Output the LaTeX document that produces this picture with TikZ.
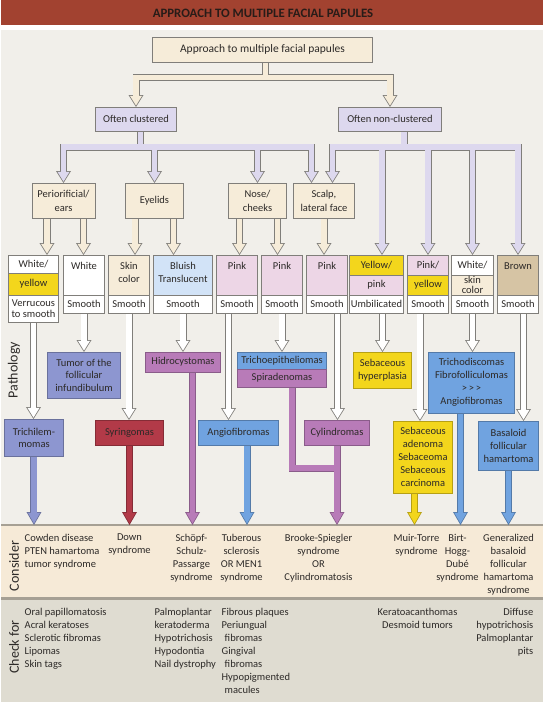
\documentclass[tikz,border=0pt]{standalone}
\usepackage{fontspec}
\setmainfont{Carlito}
\usetikzlibrary{arrows.meta}

\definecolor{titlered}{RGB}{162,66,48}
\definecolor{titletext}{RGB}{40,28,24}
\definecolor{bgpaper}{RGB}{241,239,234}
\definecolor{cream}{RGB}{246,236,217}
\definecolor{lav}{RGB}{221,216,238}
\definecolor{boxgray}{RGB}{128,126,122}
\definecolor{pinkc}{RGB}{237,214,230}
\definecolor{bluec}{RGB}{210,227,247}
\definecolor{yelc}{RGB}{243,214,28}
\definecolor{brownc}{RGB}{214,196,164}
\definecolor{slate}{RGB}{141,150,208}
\definecolor{mauve}{RGB}{184,123,184}
\definecolor{azure}{RGB}{112,163,224}
\definecolor{crimson}{RGB}{178,58,72}
\definecolor{considerbg}{RGB}{246,234,215}
\definecolor{checkbg}{RGB}{223,220,209}
\definecolor{bandline}{RGB}{166,160,148}
\definecolor{txt}{RGB}{45,42,40}

\pgfdeclarelayer{back}
\pgfdeclarelayer{links}
\pgfsetlayers{back,links,main}

\newcommand{\boxfont}{\fontsize{10.5}{13}\selectfont}

\tikzset{every picture/.style={line width=0.75pt}}
\tikzset{
  box/.style={draw=boxgray, line width=0.8pt, inner sep=0pt, outer sep=0pt, align=center, text=txt, font=\boxfont},
  areabox/.style={box, fill=cream, font=\fontsize{10.5}{14}\selectfont},
  pbox/.style={box, draw=#1!75!black, fill=#1},
  lab/.style={inner sep=0pt, align=center, text=txt, font=\boxfont},
  bandtext/.style={inner sep=0pt, text=txt, font=\boxfont},
  sidelab/.style={rotate=90, inner sep=0pt, text=txt, font=\fontsize{14}{16}\selectfont},
  houtline/.style={draw=boxgray, line width=7pt},
  hinline/.style={draw=#1, line width=5.4pt},
  hout/.style={houtline, -{Triangle[length=12pt,width=15pt,line width=0pt]}},
  hin/.style={hinline=#1, shorten >=1.5pt, -{Triangle[length=9.7pt,width=12.1pt,line width=0pt]}},
  soutline/.style={draw=#1!75!black, line width=7pt},
  sinline/.style={draw=#1, line width=5.4pt},
  solidout/.style={soutline=#1, -{Triangle[length=13pt,width=15pt,line width=0pt]}},
  solidin/.style={sinline=#1, shorten >=1.6pt, -{Triangle[length=10.6pt,width=12.2pt,line width=0pt]}},
}

% every link of the chart, drawn once for the outline and once for the fill
\newcommand{\papulelinks}{%
  % top box to the two groups
  \draw[hbar=cream] ([xshift=3pt]approach.south) -- (b1);
  \draw[htip=cream] (b1) -| (clust.north);
  \draw[htip=cream] (b1) -| (nonclust.north);
  % often clustered to the sites
  \draw[hbar=lav] ([xshift=4.5pt]clust.south) -- (b2);
  \draw[htip=lav] (b2) -| (peri.north);
  \draw[htip=lav] (b2) -| (eye.north);
  \draw[htip=lav] (b2) -| (nose.north);
  \draw[htip=lav] (b2) -| ([xshift=-12.5pt]scalp.north);
  % often non-clustered
  \draw[hbar=lav] ([xshift=14pt]nonclust.south) -- (b3);
  \draw[htip=lav] (b3) -| ([xshift=8.5pt]scalp.north);
  \draw[htip=lav] (b3) -| ([xshift=5.5pt]c8top.north);
  \draw[htip=lav] (b3) -| (c9top.north);
  \draw[htip=lav] (b3) -| (c10top.north);
  \draw[htip=lav] (b3) -| (c11col.north);
  % sites to colours
  \draw[htip=cream] ([xshift=-16.5pt]peri.south) -- ([xshift=-16.5pt]peri.south |- c1top.north);
  \draw[htip=cream] ([xshift=20pt]peri.south) -- ([xshift=20pt]peri.south |- c2col.north);
  \draw[htip=cream] ([xshift=-19.5pt]eye.south) -- ([xshift=-19.5pt]eye.south |- c3col.north);
  \draw[htip=cream] ([xshift=19pt]eye.south) -- ([xshift=19pt]eye.south |- c4col.north);
  \draw[htip=cream] ([xshift=-18pt]nose.south) -- ([xshift=-18pt]nose.south |- c5col.north);
  \draw[htip=cream] ([xshift=20pt]nose.south) -- ([xshift=20pt]nose.south |- c6col.north);
  \draw[htip=cream] (scalp.south) -- (scalp.south |- c7col.north);
  % colours to pathology
  \draw[htip=white] (c1tex.south) -- (c1tex.south |- trichilem.north);
  \draw[htip=white] (c2tex.south) -- (c2tex.south |- tumor.north);
  \draw[htip=white] (c3tex.south) -- (c3tex.south |- syring.north);
  \draw[htip=white] (c4tex.south) -- (c4tex.south |- hidro.north);
  \draw[htip=white] ([xshift=-8.5pt]c5tex.south) -- ([xshift=-8.5pt]c5tex.south |- angio.north);
  \draw[htip=white] (c6tex.south) -- (c6tex.south |- tricho.north);
  \draw[htip=white] ([xshift=10.5pt]c7tex.south) -- ([xshift=10.5pt]c7tex.south |- cylin.north);
  \draw[htip=white] ([xshift=6pt]c8tex.south) -- ([xshift=6pt]c8tex.south |- sebhyp.north);
  \draw[htip=white] ([xshift=-8pt]c9tex.south) -- ([xshift=-8pt]c9tex.south |- sebad.north);
  \draw[htip=white] (c10tex.south) -- (c10tex.south |- trichod.north);
  \draw[htip=white] ([xshift=5.5pt]c11tex.south) -- ([xshift=5.5pt]c11tex.south |- basal.north);
  % pathology to syndromes
  \draw[stip=slate] (trichilem.south) -- (trichilem.south |- consider.north);
  \draw[stip=crimson] (syring.south) -- (syring.south |- consider.north);
  \draw[stip=mauve] ([xshift=9.5pt]hidro.south) -- ([xshift=9.5pt]hidro.south |- consider.north);
  \draw[stip=azure] ([xshift=8.5pt]angio.south) -- ([xshift=8.5pt]angio.south |- consider.north);
  \draw[sbar=mauve] ([xshift=10pt]spir.south) |- (sj);
  \draw[stip=mauve] (cylin.south) -- (cylin.south |- consider.north);
  \draw[stip=yelc] ([xshift=-8.5pt]sebad.south) -- ([xshift=-8.5pt]sebad.south |- consider.north);
  \draw[stip=azure] ([xshift=-11pt]trichod.south) -- ([xshift=-11pt]trichod.south |- consider.north);
  \draw[stip=azure] (basal.south) -- (basal.south |- consider.north);
}

\begin{document}
\begin{tikzpicture}[x=1pt,y=1pt,yscale=-1,xscale=1]

\begin{pgfonlayer}{back}
%Background, title bar and bands
\fill[bgpaper] (0,0) rectangle (541,702);
\fill[titlered] (0,0) rectangle (541,25);
\fill[white] (0,25) rectangle (541,30);
\node[fill=considerbg, minimum width=541pt, minimum height=73pt, inner sep=0pt, outer sep=0pt, anchor=north west] (consider) at (0,525) {};
\node[fill=checkbg, minimum width=541pt, minimum height=104pt, inner sep=0pt, outer sep=0pt, anchor=north west] (checkfor) at (0,598) {};
\draw[draw=bandline, line width=2pt] (consider.north west) -- (consider.north east);
\draw[draw=bandline, line width=3pt] (checkfor.north west) -- (checkfor.north east);
\end{pgfonlayer}

\node[inner sep=0pt, text=titletext, font=\bfseries\fontsize{12.8}{14}\selectfont] (title) at (261.5,13) {APPROACH TO MULTIPLE FACIAL PAPULES};

%Top levels
\node[box, fill=cream, minimum width=220pt, minimum height=25pt, font=\fontsize{11.5}{13}\selectfont] (approach) at (261,49.5) {Approach to multiple facial papules};
\node[box, fill=lav, minimum width=81pt, minimum height=24pt] (clust) at (134.5,119) {Often clustered};
\node[box, fill=lav, minimum width=103pt, minimum height=24pt] (nonclust) at (388.5,119) {Often non-clustered};

%Sites
\node[areabox, minimum width=63pt, minimum height=35pt] (peri) at (62,200.5) {Periorificial/\\ears};
\node[areabox, minimum width=58pt, minimum height=35pt] (eye) at (153,200.5) {Eyelids};
\node[areabox, minimum width=58pt, minimum height=35pt] (nose) at (256,200.5) {Nose/\\cheeks};
\node[areabox, minimum width=61pt, minimum height=35pt] (scalp) at (322.5,200.5) {Scalp,\\lateral face};

%Colours and surfaces
\node[box, fill=white, minimum width=50pt, minimum height=18pt] (c1top) at (32,264) {White/};
\node[box, fill=yelc, minimum width=50pt, minimum height=22pt] (c1bot) at (32,284) {yellow};
\node[box, fill=white, minimum width=50pt, minimum height=27pt, font=\fontsize{10.5}{11}\selectfont] (c1tex) at (32,308.5) {Verrucous\\to smooth};

\node[box, fill=white, minimum width=41pt, minimum height=40pt] (c2col) at (82.5,275) {};
\node[lab] (c2lab) at (82.5,266) {White};
\node[box, fill=white, minimum width=41pt, minimum height=18pt] (c2tex) at (82.5,304) {Smooth};

\node[box, fill=cream, minimum width=41pt, minimum height=40pt] (c3col) at (127.5,275) {};
\node[lab] (c3lab) at (127.5,272.5) {Skin\\color};
\node[box, fill=white, minimum width=41pt, minimum height=18pt] (c3tex) at (127.5,304) {Smooth};

\node[box, fill=bluec, minimum width=59pt, minimum height=40pt] (c4col) at (181.5,275) {};
\node[lab] (c4lab) at (181.5,272.5) {Bluish\\Translucent};
\node[box, fill=white, minimum width=59pt, minimum height=18pt] (c4tex) at (181.5,304) {Smooth};

\node[box, fill=pinkc, minimum width=41pt, minimum height=40pt] (c5col) at (235.5,275) {};
\node[lab] (c5lab) at (235.5,266) {Pink};
\node[box, fill=white, minimum width=41pt, minimum height=18pt] (c5tex) at (235.5,304) {Smooth};

\node[box, fill=pinkc, minimum width=41pt, minimum height=40pt] (c6col) at (280.5,275) {};
\node[lab] (c6lab) at (280.5,266) {Pink};
\node[box, fill=white, minimum width=41pt, minimum height=18pt] (c6tex) at (280.5,304) {Smooth};

\node[box, fill=pinkc, minimum width=41pt, minimum height=40pt] (c7col) at (325.5,275) {};
\node[lab] (c7lab) at (325.5,266) {Pink};
\node[box, fill=white, minimum width=41pt, minimum height=18pt] (c7tex) at (325.5,304) {Smooth};

\node[box, fill=yelc, minimum width=54pt, minimum height=20pt] (c8top) at (375,265) {Yellow/};
\node[box, fill=pinkc, minimum width=54pt, minimum height=20pt] (c8bot) at (375,285) {pink};
\node[box, fill=white, minimum width=54pt, minimum height=18pt] (c8tex) at (375,304) {Umbilicated};

\node[box, fill=pinkc, minimum width=41pt, minimum height=20pt] (c9top) at (426.5,265) {Pink/};
\node[box, fill=yelc, minimum width=41pt, minimum height=20pt] (c9bot) at (426.5,285) {yellow};
\node[box, fill=white, minimum width=41pt, minimum height=18pt] (c9tex) at (426.5,304) {Smooth};

\node[box, fill=white, minimum width=42pt, minimum height=20pt] (c10top) at (471,265) {White/};
\node[box, fill=cream, minimum width=42pt, minimum height=20pt, font=\fontsize{10.5}{10}\selectfont] (c10bot) at (471,285) {skin\\color};
\node[box, fill=white, minimum width=42pt, minimum height=18pt] (c10tex) at (471,304) {Smooth};

\node[box, fill=brownc, minimum width=41pt, minimum height=40pt] (c11col) at (516.5,275) {};
\node[lab] (c11lab) at (516.5,266) {Brown};
\node[box, fill=white, minimum width=41pt, minimum height=18pt] (c11tex) at (516.5,304) {Smooth};

%Pathology
\node[pbox=slate, minimum width=73pt, minimum height=46pt, font=\fontsize{10.5}{12.5}\selectfont] (tumor) at (82.5,375) {Tumor of the\\follicular\\infundibulum};
\node[pbox=mauve, minimum width=75pt, minimum height=20pt] (hidro) at (181.5,362) {Hidrocystomas};
\node[pbox=azure, minimum width=89pt, minimum height=17pt] (tricho) at (280.5,360.5) {Trichoepitheliomas};
\node[pbox=mauve, minimum width=89pt, minimum height=18pt] (spir) at (280.5,378) {Spiradenomas};
\node[pbox=yelc, minimum width=58pt, minimum height=36pt] (sebhyp) at (381,370) {Sebaceous\\hyperplasia};
\node[pbox=azure, minimum width=86pt, minimum height=61pt] (trichod) at (470,382.5) {Trichodiscomas\\Fibrofolliculomas\\>\,>\,>\\Angiofibromas};
\node[pbox=slate, minimum width=59pt, minimum height=37pt, font=\fontsize{10.5}{12}\selectfont] (trichilem) at (32.5,437.5) {Trichilem-\\momas};
\node[pbox=crimson, minimum width=68pt, minimum height=25pt] (syring) at (128,432.5) {Syringomas};
\node[pbox=azure, minimum width=80pt, minimum height=25pt] (angio) at (237,432.5) {Angiofibromas};
\node[pbox=mauve, minimum width=65pt, minimum height=25pt] (cylin) at (335.5,432.5) {Cylindromas};
\node[pbox=yelc, minimum width=59pt, minimum height=72pt] (sebad) at (421.5,457) {Sebaceous\\adenoma\\Sebaceoma\\Sebaceous\\carcinoma};
\node[pbox=azure, minimum width=60pt, minimum height=49pt] (basal) at (507,445.5) {Basaloid\\follicular\\hamartoma};

%Side labels
\node[sidelab] (pathlab) at (12.5,370) {Pathology};
\node[sidelab] (conslab) at (12.5,566) {Consider};
\node[sidelab] (checklab) at (12.5,647) {Check for};

%Consider
\node[bandtext, align=left, anchor=north west] (cowden) at (23,534) {Cowden disease\\PTEN hamartoma\\tumor syndrome};
\node[bandtext, align=center, anchor=north] (down) at (128,534) {Down\\syndrome};
\node[bandtext, align=center, anchor=north] (schopf) at (190,534) {Schöpf-\\Schulz-\\Passarge\\syndrome};
\node[bandtext, align=center, anchor=north] (tuber) at (240,534) {Tuberous\\sclerosis\\OR MEN1\\syndrome};
\node[bandtext, align=center, anchor=north] (brooke) at (317,534) {Brooke-Spiegler\\syndrome\\OR\\Cylindromatosis};
\node[bandtext, align=center, anchor=north] (muir) at (415,534) {Muir-Torre\\syndrome};
\node[bandtext, align=center, anchor=north] (birt) at (456,534) {Birt-\\Hogg-\\Dubé\\syndrome};
\node[bandtext, align=center, anchor=north] (general) at (507,534) {Generalized\\basaloid\\follicular\\hamartoma\\syndrome};

%Check for
\node[bandtext, align=left, anchor=north west] (oral) at (23,608) {Oral papillomatosis\\Acral keratoses\\Sclerotic fibromas\\Lipomas\\Skin tags};
\node[bandtext, align=left, anchor=north west] (palmo) at (153,608) {Palmoplantar\\keratoderma\\Hypotrichosis\\Hypodontia\\Nail dystrophy};
\node[bandtext, align=left, anchor=north west] (fibrous) at (220,608) {Fibrous plaques\\Periungual\\\hspace{3pt}fibromas\\Gingival\\\hspace{3pt}fibromas\\Hypopigmented\\\hspace{3pt}macules};
\node[bandtext, align=center, anchor=north] (kerato) at (416,608) {Keratoacanthomas\\Desmoid tumors};
\node[bandtext, align=right, anchor=north east] (diffuse) at (532,608) {Diffuse\\hypotrichosis\\Palmoplantar\\pits};

%Links: outlines first, then fills, so the branches merge
\coordinate (b1) at (264,77.5);
\coordinate (b2) at (139,147);
\coordinate (b3) at (402.5,147);
\coordinate (sj) at (335.5,468);
\begin{pgfonlayer}{links}
\tikzset{hbar/.style={houtline}, htip/.style={hout}, sbar/.style={soutline=#1}, stip/.style={solidout=#1}}
\papulelinks
\tikzset{hbar/.style={hinline=#1}, htip/.style={hin=#1}, sbar/.style={sinline=#1}, stip/.style={solidin=#1}}
\papulelinks
\end{pgfonlayer}

\end{tikzpicture}
\end{document}
